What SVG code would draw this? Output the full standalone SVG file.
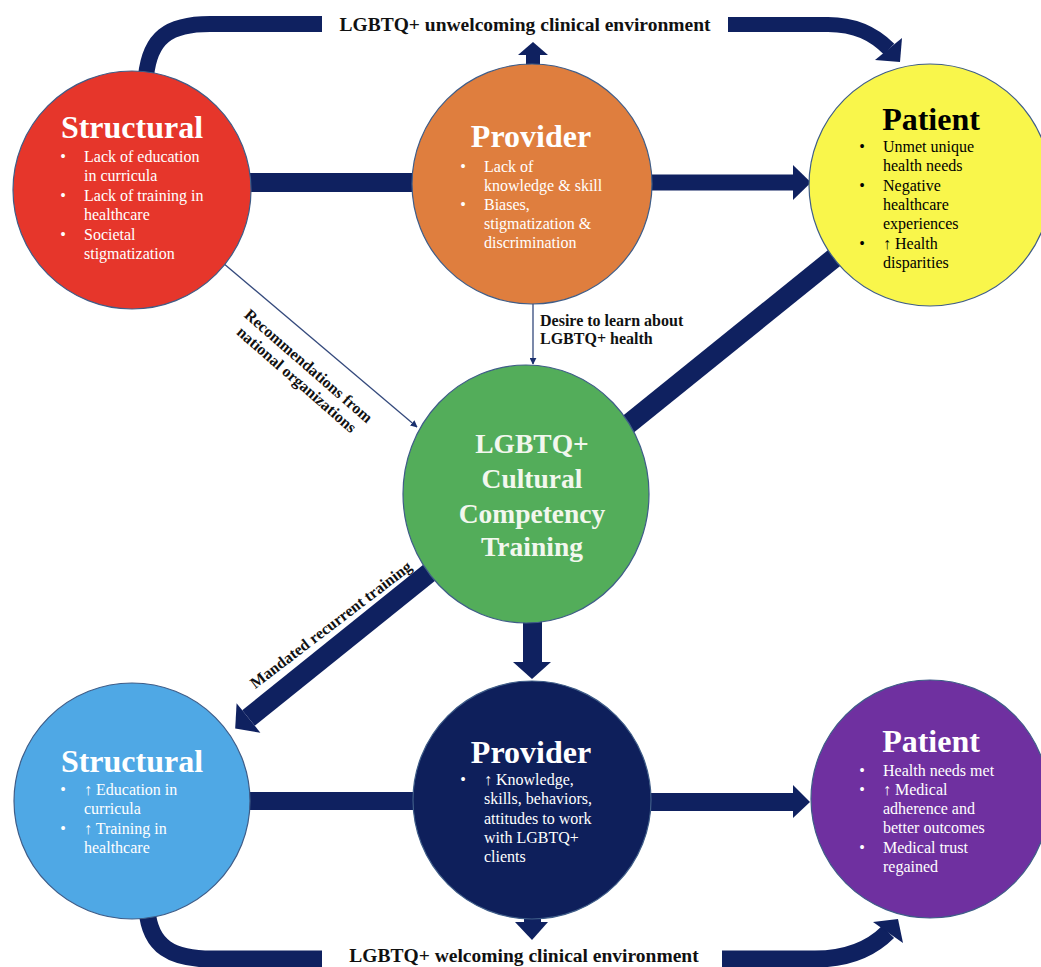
<svg xmlns="http://www.w3.org/2000/svg" width="1041" height="967" viewBox="0 0 1041 967">
  <style>
    .node { stroke: #3f5d88; stroke-width: 1.2; }
    .title { font-family: "Liberation Serif", "Times New Roman", serif; font-weight: bold; font-size: 32px; text-anchor: middle; }
    .item { font-family: "Liberation Serif", "Times New Roman", serif; font-size: 16px; }
    .bul { font-family: "Liberation Serif", "Times New Roman", serif; font-size: 16px; text-anchor: middle; }
    .center { font-family: "Liberation Serif", "Times New Roman", serif; font-weight: bold; font-size: 27.5px; text-anchor: middle; fill: #f2f7ee; }
    .lbl { font-family: "Liberation Serif", "Times New Roman", serif; font-weight: bold; font-size: 16px; fill: #111; }
    .env { font-family: "Liberation Serif", "Times New Roman", serif; font-weight: bold; font-size: 19.5px; fill: #111; text-anchor: middle; }
    .thick { stroke: #0f2160; fill: none; }
    .head { fill: #0f2160; }
    .thin { stroke: #34497c; stroke-width: 1.3; fill: none; }
    .w { fill: #ffffff; }
    .k { fill: #000000; }
  </style>
  <defs>
    <marker id="tip" viewBox="0 0 10 10" refX="9" refY="5" markerWidth="7" markerHeight="7" orient="auto" markerUnits="userSpaceOnUse">
      <path d="M0,0 L10,5 L0,10 z" fill="#1a2f6e"/>
    </marker>
  </defs>

  <rect width="1041" height="967" fill="#ffffff"/>

  <!-- connectors (drawn beneath the circles) -->
  <g id="connectors">
    <!-- top environment arc -->
    <path class="thick" stroke-width="16" d="M146,76 C150,38 168,24 210,24 H322"/>
    <path class="thick" stroke-width="15" d="M728,24.5 H828 C856,24.5 874,34 889,49"/>
    <polygon class="head" points="902,38 875,60 900,62"/>
    <!-- provider up to environment -->
    <rect class="head" x="526" y="54" width="14" height="20"/>
    <polygon class="head" points="518,55 548,55 533,42"/>
    <!-- top row horizontals -->
    <rect class="head" x="240" y="173" width="185" height="19"/>
    <rect class="head" x="640" y="174.5" width="154" height="16"/>
    <polygon class="head" points="793,165 793,200 811,182.5"/>
    <!-- training to patient -->
    <line class="thick" stroke-width="20" x1="600" y1="447" x2="880" y2="221"/>
    <!-- thin feeders into training -->
    <line class="thin" x1="223" y1="263" x2="417" y2="427" marker-end="url(#tip)"/>
    <line class="thin" x1="533" y1="303" x2="533" y2="364" marker-end="url(#tip)"/>
    <!-- training to structural (bottom) -->
    <line class="thick" stroke-width="20" x1="450" y1="556" x2="248.5" y2="718"/>
    <polygon class="head" points="260.4,732.8 236.6,703.2 235.2,728.6"/>
    <!-- training down to provider -->
    <rect class="head" x="523" y="600" width="19" height="63"/>
    <polygon class="head" points="513,662 551,662 532,679"/>
    <!-- bottom row horizontals -->
    <rect class="head" x="240" y="792" width="185" height="18"/>
    <rect class="head" x="640" y="793" width="154" height="18"/>
    <polygon class="head" points="793,785 793,818 810,802"/>
    <!-- provider down to environment -->
    <rect class="head" x="524" y="900" width="17" height="23"/>
    <polygon class="head" points="515,922 548,922 532,940"/>
    <!-- bottom environment arc -->
    <path class="thick" stroke-width="17" d="M147,910 C150,947 172,959 212,959 H322"/>
    <path class="thick" stroke-width="17" d="M722,959 H815 C845,959 870,950 888,932"/>
    <polygon class="head" points="873,922 903,943 898,919"/>
  </g>

  <!-- connector labels -->
  <g id="labels">
    <text class="env" x="525" y="31">LGBTQ+ unwelcoming clinical environment</text>
    <text class="env" x="524" y="962">LGBTQ+ welcoming clinical environment</text>
    <text class="lbl" x="540" y="326">Desire to learn about</text>
    <text class="lbl" x="540" y="344">LGBTQ+ health</text>
    <g transform="translate(305,370) rotate(41)">
      <text class="lbl" x="0" y="0" text-anchor="middle">Recommendations from</text>
      <text class="lbl" x="0" y="18" text-anchor="middle">national organizations</text>
    </g>
    <g transform="translate(334,629) rotate(-37.4)">
      <text class="lbl" x="0" y="0" text-anchor="middle">Mandated recurrent training</text>
    </g>
  </g>

  <!-- top row: current state -->
  <g id="structural-before">
    <circle class="node" cx="132" cy="190" r="119" fill="#e6362b"/>
    <text class="title w" x="132" y="138">Structural</text>
    <g class="w">
      <text class="bul" x="63" y="162">•</text><text class="item" x="84" y="162">Lack of education</text>
      <text class="item" x="84" y="181">in curricula</text>
      <text class="bul" x="63" y="201">•</text><text class="item" x="84" y="201">Lack of training in</text>
      <text class="item" x="84" y="220">healthcare</text>
      <text class="bul" x="63" y="240">•</text><text class="item" x="84" y="240">Societal</text>
      <text class="item" x="84" y="259">stigmatization</text>
    </g>
  </g>

  <g id="provider-before">
    <circle class="node" cx="532" cy="184" r="120" fill="#df7e3e"/>
    <text class="title w" x="531" y="147">Provider</text>
    <g class="w">
      <text class="bul" x="463" y="172">•</text><text class="item" x="484" y="172">Lack of</text>
      <text class="item" x="484" y="191">knowledge &amp; skill</text>
      <text class="bul" x="463" y="210">•</text><text class="item" x="484" y="210">Biases,</text>
      <text class="item" x="484" y="229">stigmatization &amp;</text>
      <text class="item" x="484" y="248">discrimination</text>
    </g>
  </g>

  <g id="patient-before">
    <circle class="node" cx="930" cy="185" r="121" fill="#f9f64b"/>
    <text class="title k" x="931" y="130">Patient</text>
    <g class="k">
      <text class="bul" x="862" y="152">•</text><text class="item" x="883" y="152">Unmet unique</text>
      <text class="item" x="883" y="171">health needs</text>
      <text class="bul" x="862" y="191">•</text><text class="item" x="883" y="191">Negative</text>
      <text class="item" x="883" y="210">healthcare</text>
      <text class="item" x="883" y="229">experiences</text>
      <text class="bul" x="862" y="249">•</text><text class="item" x="883" y="249">↑ Health</text>
      <text class="item" x="883" y="268">disparities</text>
    </g>
  </g>

  <!-- intervention -->
  <g id="training">
    <ellipse class="node" cx="526" cy="494" rx="123" ry="129" fill="#53ad5a"/>
    <text class="center" x="532" y="453">LGBTQ+</text>
    <text class="center" x="532" y="488">Cultural</text>
    <text class="center" x="532" y="523">Competency</text>
    <text class="center" x="532" y="556">Training</text>
  </g>

  <!-- bottom row: improved state -->
  <g id="structural-after">
    <circle class="node" cx="132" cy="801" r="118" fill="#4fa8e5"/>
    <text class="title w" x="132" y="772">Structural</text>
    <g class="w">
      <text class="bul" x="63" y="795">•</text><text class="item" x="84" y="795">↑ Education in</text>
      <text class="item" x="84" y="814">curricula</text>
      <text class="bul" x="63" y="834">•</text><text class="item" x="84" y="834">↑ Training in</text>
      <text class="item" x="84" y="853">healthcare</text>
    </g>
  </g>

  <g id="provider-after">
    <circle class="node" cx="532" cy="800" r="119" fill="#0e1f5b"/>
    <text class="title w" x="531" y="763">Provider</text>
    <g class="w">
      <text class="bul" x="463" y="785">•</text><text class="item" x="484" y="785">↑ Knowledge,</text>
      <text class="item" x="484" y="804">skills, behaviors,</text>
      <text class="item" x="484" y="824">attitudes to work</text>
      <text class="item" x="484" y="843">with LGBTQ+</text>
      <text class="item" x="484" y="862">clients</text>
    </g>
  </g>

  <g id="patient-after">
    <circle class="node" cx="930" cy="799" r="119" fill="#6f30a0"/>
    <text class="title w" x="931" y="752">Patient</text>
    <g class="w">
      <text class="bul" x="862" y="776">•</text><text class="item" x="883" y="776">Health needs met</text>
      <text class="bul" x="862" y="795">•</text><text class="item" x="883" y="795">↑ Medical</text>
      <text class="item" x="883" y="814">adherence and</text>
      <text class="item" x="883" y="833">better outcomes</text>
      <text class="bul" x="862" y="853">•</text><text class="item" x="883" y="853">Medical trust</text>
      <text class="item" x="883" y="872">regained</text>
    </g>
  </g>
</svg>
